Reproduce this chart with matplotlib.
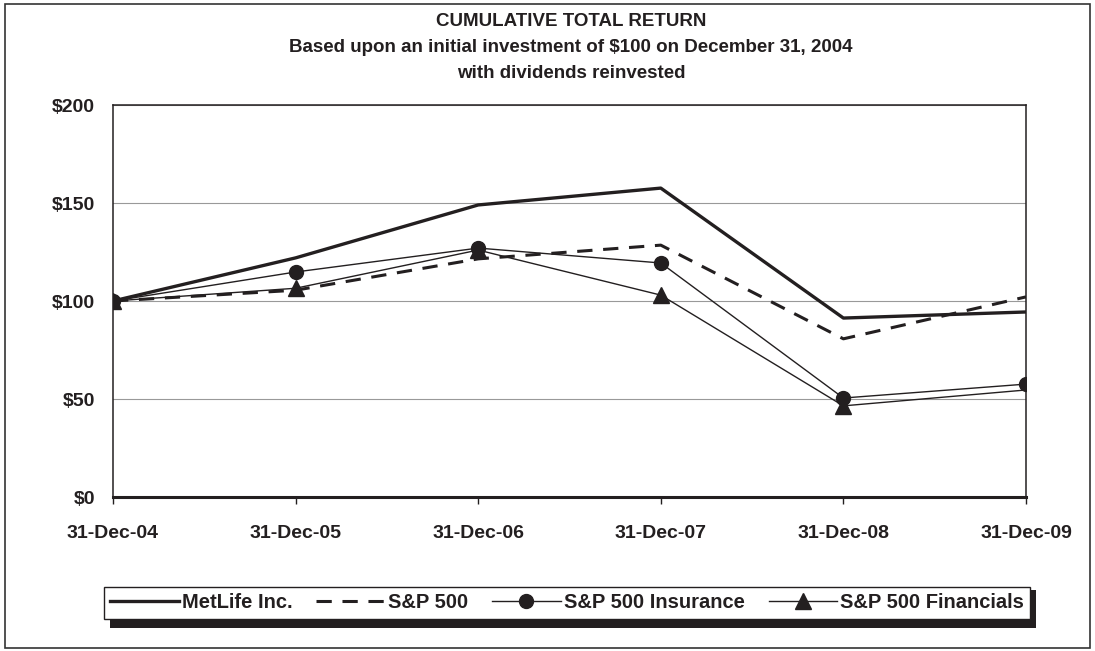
import matplotlib
matplotlib.use("Agg")
import matplotlib.pyplot as plt
from matplotlib.patches import Rectangle

plt.rcParams["font.family"] = ["Liberation Sans", "DejaVu Sans"]
plt.rcParams["font.weight"] = "bold"

# values
YEARS = ["31-Dec-04", "31-Dec-05", "31-Dec-06", "31-Dec-07", "31-Dec-08", "31-Dec-09"]
METLIFE = [100, 122, 149, 157.6, 91.3, 94.4]
SP500 = [100, 105.5, 121.5, 128.5, 80.7, 102.1]
SP_INSURANCE = [100, 114.8, 127, 119.4, 50.5, 57.6]
SP_FINANCIALS = [100, 106.5, 126, 103, 46.5, 54.6]
Y_TICKS = [0, 50, 100, 150, 200]
Y_LABELS = ["$0", "$50", "$100", "$150", "$200"]

INK = "#231f20"
W, H = 1095, 651

fig = plt.figure(figsize=(W / 100, H / 100), dpi=100)
ax = fig.add_axes([113 / W, 1 - 497 / H, (1026 - 113) / W, (497 - 105) / H])

x = list(range(len(YEARS)))
l1, = ax.plot(x, METLIFE, color=INK, lw=2.4, zorder=3, label="MetLife Inc.")
l2, = ax.plot(x, SP500, color=INK, lw=2.2, dashes=(5, 3.5), zorder=3, label="S&P 500")
l3, = ax.plot(x, SP_INSURANCE, color=INK, lw=1.0, marker="o", ms=10, zorder=4,
              label="S&P 500 Insurance")
l4, = ax.plot(x, SP_FINANCIALS, color=INK, lw=1.0, marker="^", ms=11, zorder=4,
              markevery=[0, 1, 2, 3, 4], label="S&P 500 Financials")

ax.set_xlim(0, len(YEARS) - 1)
ax.set_ylim(0, 200)
ax.set_xticks(x)
ax.set_xticklabels(YEARS, fontsize=14, fontweight="bold", color=INK)
ax.set_yticks(Y_TICKS)
ax.set_yticklabels(Y_LABELS, fontsize=14, fontweight="bold", color=INK)
ax.tick_params(axis="x", direction="out", length=5, width=1, pad=15, color=INK)
ax.tick_params(axis="y", length=0, pad=13)
ax.grid(axis="y", color="#999999", lw=0.8)
ax.set_axisbelow(True)
for side, lw in [("left", 1.1), ("right", 1.1), ("top", 1.1), ("bottom", 2.2)]:
    ax.spines[side].set_color(INK)
    ax.spines[side].set_linewidth(lw)

# title lines
for text, ypx in [("CUMULATIVE TOTAL RETURN", 22),
                  ("Based upon an initial investment of $100 on December 31, 2004", 48),
                  ("with dividends reinvested", 74)]:
    fig.text(571 / W, 1 - ypx / H, text, ha="center", va="center",
             fontsize=13.5, fontweight="bold", color=INK)

# legend box with solid offset shadow
lx0, lx1, ly0, ly1 = 104, 1030, 584, 622
fig.patches.append(Rectangle(((lx0 + 6) / W, 1 - (ly1 + 6) / H),
                             (lx1 - lx0) / W, (ly1 - ly0) / H, transform=fig.transFigure,
                             facecolor=INK, edgecolor="none", zorder=1))
leg = fig.legend(handles=[l1, l2, l3, l4], loc="center", ncol=4, mode="expand",
                 bbox_to_anchor=(lx0 / W, 1 - ly1 / H, (lx1 - lx0) / W, (ly1 - ly0) / H),
                 bbox_transform=fig.transFigure, fontsize=14.5, handlelength=3.4,
                 handletextpad=0.15, columnspacing=0.5, borderaxespad=0,
                 fancybox=False, framealpha=1, edgecolor=INK, borderpad=0.3)
leg.get_frame().set_linewidth(1.0)
leg.set_zorder(2)
for t in leg.get_texts():
    t.set_fontweight("bold")
    t.set_color(INK)

# outer border
fig.patches.append(Rectangle((5 / W, 1 - 648 / H), (1090 - 5) / W, (648 - 4) / H,
                             transform=fig.transFigure, fill=False, edgecolor="#333333",
                             lw=1.2, zorder=0))

fig.savefig("out.png", dpi=100)
